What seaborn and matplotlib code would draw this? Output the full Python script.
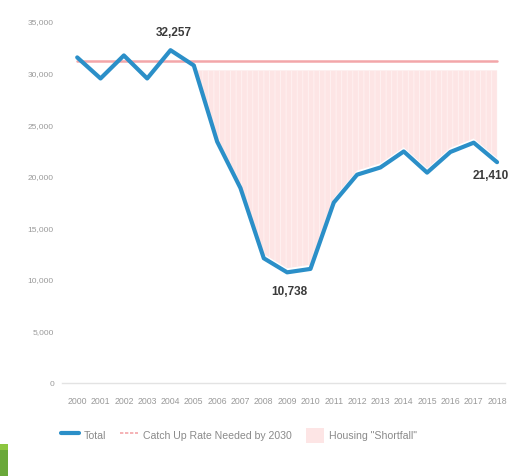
import matplotlib
matplotlib.use("Agg")
import matplotlib.pyplot as plt
import seaborn as sns
import pandas as pd
from matplotlib.patches import Patch, Rectangle
from matplotlib.lines import Line2D

years = list(range(2000, 2019))
total = [31560, 29520, 31750, 29520, 32257, 30780, 23400, 18900, 12100, 10738,
         11070, 17500, 20200, 20900, 22450, 20400, 22400, 23300, 21410]
catch_up_rate = 31200
shortfall_top = 30300
shortfall_start = 2005
ytick_values = [0, 5000, 10000, 15000, 20000, 25000, 30000, 35000]
annotations = {2004: "32,257", 2009: "10,738", 2018: "21,410"}

df = pd.DataFrame({"Year": years, "Total": total})

sns.set_theme(style="white")
plt.rcParams["font.family"] = ["Liberation Sans Narrow", "Liberation Sans", "DejaVu Sans"]
plt.rcParams["hatch.linewidth"] = 0.6

fig = plt.figure(figsize=(5.19, 4.76), dpi=100)
ax = fig.add_axes([0.12, 0.195, 0.853, 0.759])

blue = "#2b8fc8"
pink = "#f3a6a9"
fillc = "#fde5e5"

# shortfall area
sub = df[df["Year"] >= shortfall_start]
ax.fill_between(sub["Year"], sub["Total"] + 400, shortfall_top, facecolor=fillc,
                edgecolor="#fff3f3", hatch="|||", lw=0, zorder=1)

# catch up line
ax.plot([years[0], years[-1]], [catch_up_rate, catch_up_rate], color=pink, lw=1.8, zorder=2)

# total line
sns.lineplot(data=df, x="Year", y="Total", ax=ax, color=blue, lw=3.0, zorder=3)

ax.set_xlim(1999.36, 2018.34)
ax.set_ylim(0, 35000)
ax.set_yticks(ytick_values)
ax.set_yticklabels([f"{v:,}" for v in ytick_values], fontsize=6, color="#9a9a9a")
ax.set_xticks(years)
ax.set_xticklabels([str(y) for y in years], fontsize=6.3, color="#9a9a9a")
ax.tick_params(axis="x", length=0, pad=10)
ax.tick_params(axis="y", length=0, pad=6)
ax.set_xlabel("")
ax.set_ylabel("")
for s in ["top", "right", "left"]:
    ax.spines[s].set_visible(False)
ax.spines["bottom"].set_color("#e3e3e3")
ax.spines["bottom"].set_linewidth(1.0)
ax.set_facecolor("white")

txt_kw = dict(fontsize=8.5, color="#3a3a3a", fontweight="bold", ha="center")
ax.text(2004.15, total[4] + 1050, annotations[2004], va="bottom", **txt_kw)
ax.text(2009.1, total[9] - 1300, annotations[2009], va="top", **txt_kw)
ax.text(2017.75, total[18] - 800, annotations[2018], va="top", **txt_kw)

handles = [
    Line2D([0], [0], color=blue, lw=3),
    Line2D([0], [0], color=pink, lw=1.2, ls=(0, (2, 1))),
    Patch(facecolor=fillc, edgecolor="none"),
]
labels = ["Total", "Catch Up Rate Needed by 2030", 'Housing "Shortfall"']
fig.legend(handles, labels, loc="center", bbox_to_anchor=(0.46, 0.085), ncol=3,
           frameon=False, fontsize=7.6, labelcolor="#8a8a8a", handlelength=1.7,
           handleheight=1.9, columnspacing=1.3, handletextpad=0.5)

# screenshot edge artefact
fig.patches.append(Rectangle((0, 0), 8 / 519, 32 / 476, transform=fig.transFigure,
                             facecolor="#6aa83a", edgecolor="none"))
fig.patches.append(Rectangle((0, 26 / 476), 8 / 519, 6 / 476, transform=fig.transFigure,
                             facecolor="#8cc63f", edgecolor="none"))

fig.savefig("out.png", dpi=100, facecolor="white")
